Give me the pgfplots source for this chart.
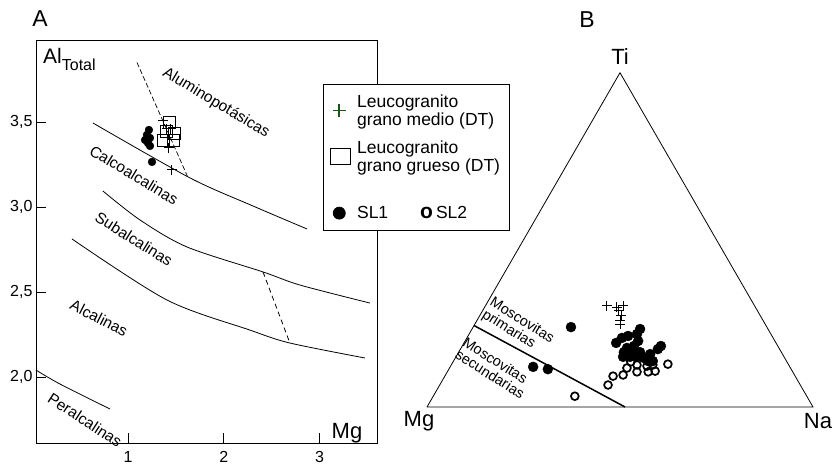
\documentclass[border=0pt]{standalone}
\usepackage{pgfplots}
\pgfplotsset{compat=1.18}
\usepackage{fontspec}
\setmainfont{Liberation Sans}
\definecolor{dtgreen}{RGB}{25,85,25}
\newcommand{\fs}[1]{\fontsize{#1}{#1}\selectfont}

\begin{document}
\begin{tikzpicture}
\path[use as bounding box] (0pt,0pt) rectangle (835pt,-469pt);

% ---- A: Al_total vs Mg
\begin{axis}[
  at={(36pt,-443pt)}, anchor=south west,
  scale only axis, width=341pt, height=403pt,
  xmin=0.037, xmax=3.6, ymin=1.612, ymax=3.982,
  xtick={1,2,3}, ytick={2,2.5,3,3.5},
  tick align=inside, xtick pos=bottom, ytick pos=left,
  major tick length=10pt,
  every tick/.style={black, line width=0.8pt},
  axis line style={line width=0.8pt},
  /pgf/number format/assume math mode=true,
  /pgf/number format/use comma,
  yticklabel style={/pgf/number format/.cd, fixed, fixed zerofill, precision=1},
  tick label style={font=\fs{16}},
  xticklabel style={yshift=-5pt},
  clip=false,
  legend cell align=left,
  legend style={at={(0.8416,0.8908)}, anchor=north west, draw=black,
    line width=0.8pt, fill=white,
    font=\fontsize{17.5}{18}\selectfont, row sep=10pt, column sep=4pt,
    inner xsep=7pt, inner ysep=8pt, cells={align=left}},
]
% boundaries
\addplot[smooth, black, line width=0.8pt, forget plot] coordinates {(0.632,3.494)(1.646,3.171)(2.304,3.006)(2.868,2.871)};
\addplot[smooth, black, line width=0.8pt, forget plot] coordinates {(0.736,3.094)(1.123,2.924)(1.614,2.765)(2.409,2.618)(2.795,2.541)(3.527,2.435)};
\addplot[smooth, black, line width=0.8pt, forget plot] coordinates {(0.413,2.812)(1.405,2.453)(2.273,2.276)(2.69,2.2)(3.474,2.112)};
\addplot[smooth, black, line width=0.8pt, forget plot] coordinates {(0.037,2.041)(0.287,1.959)(0.81,1.812)};
\addplot[black, line width=0.7pt, dash pattern=on 5pt off 2.5pt, forget plot] coordinates {(1.092,3.85)(1.62,3.18)};
\addplot[black, line width=0.8pt, dash pattern=on 5pt off 3.5pt, forget plot] coordinates {(2.409,2.618)(2.69,2.2)};
% samples
\addplot[only marks, mark=*, mark size=3.9pt, black, forget plot] coordinates {
 (1.217,3.453)(1.196,3.424)(1.228,3.406)(1.176,3.394)(1.207,3.376)(1.228,3.359)(1.249,3.265)};
\addplot[only marks, mark=square, mark size=6pt, black, line width=0.6pt, forget plot] coordinates {
 (1.426,3.50)(1.395,3.445)(1.478,3.435)(1.364,3.394)(1.468,3.39)};
\addplot[only marks, mark=+, mark size=5pt, black, line width=1pt, forget plot] coordinates {
 (1.364,3.506)(1.405,3.459)(1.447,3.459)(1.426,3.347)(1.458,3.218)};
% legend
\addlegendimage{only marks, mark=+, mark size=6.5pt, dtgreen, line width=1.8pt}
\addlegendentry{Leucogranito\\grano medio (DT)}
\addlegendimage{legend image code/.code={\draw[black, line width=0.7pt] (0pt,-8pt) rectangle (20pt,8pt);}}
\addlegendentry{Leucogranito\\grano grueso (DT)}
\addlegendimage{empty legend}
\addlegendentry{\rule{0pt}{4pt}}
\addlegendimage{only marks, mark=*, mark size=6pt, black}
\addlegendentry{SL1\hspace{32pt}{\fs{21}\bfseries o}\hspace{3pt}SL2}
\end{axis}

% ---- B: Ti - Mg - Na
\begin{axis}[
  at={(427pt,-407pt)}, anchor=south west,
  scale only axis, width=386pt, height=334.3pt,
  xmin=0, xmax=1, ymin=0, ymax=0.866,
  hide axis, clip=false,
]
\addplot[black, line width=0.8pt] coordinates {(0,0)(1,0)(0.5,0.866)(0,0)};
\addplot[black, line width=1.5pt] coordinates {(0.122,0.211)(0.513,0)};
\addplot[only marks, mark=*, mark size=5pt, black] coordinates {
 (0.373,0.207)(0.275,0.104)(0.313,0.098)(0.552,0.202)(0.544,0.189)(0.521,0.184)
 (0.505,0.179)(0.490,0.166)(0.547,0.171)(0.536,0.158)(0.518,0.153)(0.510,0.142)
 (0.531,0.148)(0.552,0.142)(0.508,0.130)(0.526,0.130)(0.544,0.130)(0.562,0.127)
 (0.573,0.119)(0.585,0.119)(0.598,0.150)(0.606,0.158)(0.578,0.137)};
\addplot[only marks, mark=o, mark size=3.9pt, black, line width=1.7pt] coordinates {
 (0.624,0.111)(0.585,0.109)(0.570,0.106)(0.544,0.109)(0.528,0.117)(0.518,0.101)
 (0.544,0.091)(0.573,0.091)(0.591,0.093)(0.508,0.083)(0.482,0.080)(0.469,0.057)
 (0.383,0.028)};
\addplot[only marks, mark=+, mark size=5pt, black, line width=1pt] coordinates {
 (0.466,0.262)(0.492,0.259)(0.508,0.262)(0.497,0.249)(0.503,0.238)(0.500,0.225)(0.500,0.215)};
\end{axis}

% ---- text
\node[font=\fs{23}] at (40pt,-19pt) {A};
\node[font=\fs{23}] at (587pt,-20pt) {B};
\node[anchor=base west, inner sep=0pt] at (43pt,-63pt) {\fs{21}Al\raisebox{-7pt}{\fs{16}Total}};
\node[font=\fs{22}] at (347pt,-433pt) {Mg};
\node[font=\fs{22}] at (620pt,-57pt) {Ti};
\node[font=\fs{22}] at (419pt,-421pt) {Mg};
\node[font=\fs{22}] at (818pt,-421pt) {Na};
\begin{scope}[every node/.style={font=\fs{15.5}, inner sep=0pt}]
\node[rotate=-31] at (216pt,-103pt) {Aluminopotásicas};
\node[rotate=-31] at (134pt,-175pt) {Calcoalcalinas};
\node[rotate=-32] at (134pt,-239pt) {Subalcalinas};
\node[rotate=-27] at (99pt,-318pt) {Alcalinas};
\node[rotate=-33] at (85pt,-420pt) {Peralcalinas};
\end{scope}
\begin{scope}[every node/.style={font=\fontsize{14.5}{14.5}\selectfont, inner sep=0pt, align=left}]
\node[rotate=-32] at (518pt,-327pt) {Moscovitas\\primarias};
\node[rotate=-32] at (494pt,-368pt) {Moscovitas\\secundarias};
\end{scope}
\end{tikzpicture}
\end{document}
